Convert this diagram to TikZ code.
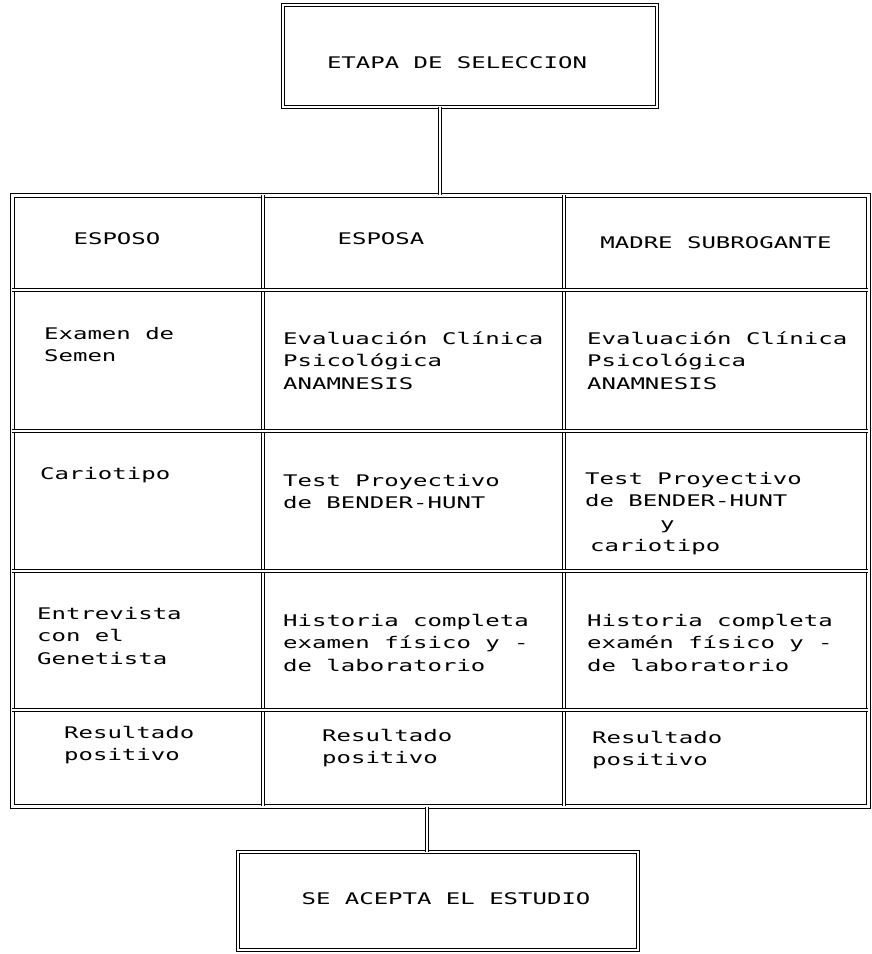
\documentclass[tikz,border=0pt]{standalone}
\usepackage{fontspec}
\newfontfamily\dotfont[FakeStretch=1.5]{DejaVu Sans Mono}
\newcommand{\widesp}{\spaceskip=14.4pt\relax\xspaceskip=14.4pt\relax}
\newcommand{\dotsize}{\dotfont\fontsize{16pt}{22.5pt}\selectfont\widesp}
\begin{document}
\begin{tikzpicture}[x=1pt,y=-1pt,
  dbl/.style={draw=black, double=white, double distance=2.4pt, line width=0.9pt},
  boxd/.style={dbl, rectangle, inner sep=0pt},
  txt/.style={font=\dotsize, inner sep=0pt},
  ltxt/.style={txt, anchor=base west, align=flush left, text width=275pt, execute at begin node=\widesp},
  ctxt/.style={txt, anchor=base}]
\useasboundingbox[fill=white] (0,0) rectangle (871,954);

% top box
\node[boxd, minimum width=374pt, minimum height=102pt] (top) at (470,56) {};
\node[ctxt] (ttop) at (457,68) {ETAPA DE SELECCION};

% table frame
\node[boxd, anchor=north west, minimum width=856pt, minimum height=611pt] (tab) at (12,195) {};
% grid lines
\draw[dbl] (263,195) -- (263,806);
\draw[dbl] (564,195) -- (564,806);
\draw[dbl] (12,290) -- (868,290);
\draw[dbl] (12,431) -- (868,431);
\draw[dbl] (12,571) -- (868,571);
\draw[dbl] (12,710) -- (868,710);

% bottom box
\node[boxd, minimum width=400pt, minimum height=98pt] (bot) at (438,901) {};
\node[ctxt] (tbot) at (446,904) {SE ACEPTA EL ESTUDIO};

% connectors
\coordinate (ca) at (440,0);
\coordinate (cb) at (427,0);
\draw[dbl] (ca |- top.south) -- (ca |- tab.north);
\draw[dbl] (cb |- tab.south) -- (cb |- bot.north);

% header row
\node[ctxt] (h1) at (117,244) {ESPOSO};
\node[ctxt] (h2) at (381,244) {ESPOSA};
\node[ctxt] (h3) at (716,248) {MADRE SUBROGANTE};

% row 2
\node[ltxt] (c21) at (44,339) {Examen de\\Semen};
\node[ltxt] (c22) at (283,344) {Evaluación Clínica\\Psicológica\\ANAMNESIS};
\node[ltxt] (c23) at (587,344) {Evaluación Clínica\\Psicológica\\ANAMNESIS};

% row 3
\node[ltxt] (c31) at (40,479) {Cariotipo};
\node[ltxt] (c32) at (283,486) {Test Proyectivo\\de BENDER-HUNT};
\node[ltxt] (c33) at (585,484) {Test Proyectivo\\de BENDER-HUNT\\\hspace*{75pt}y\\\hspace*{5pt}cariotipo};

% row 4
\node[ltxt] (c41) at (37,619) {Entrevista\\con el\\Genetista};
\node[ltxt] (c42) at (283,626) {Historia completa\\examen físico y -\\de laboratorio};
\node[ltxt] (c43) at (587,626) {Historia completa\\examén físico y -\\de laboratorio};

% row 5
\node[ltxt] (c51) at (64,738) {Resultado\\positivo};
\node[ltxt] (c52) at (322,741) {Resultado\\positivo};
\node[ltxt] (c53) at (592,743) {Resultado\\positivo};
\end{tikzpicture}
\end{document}
